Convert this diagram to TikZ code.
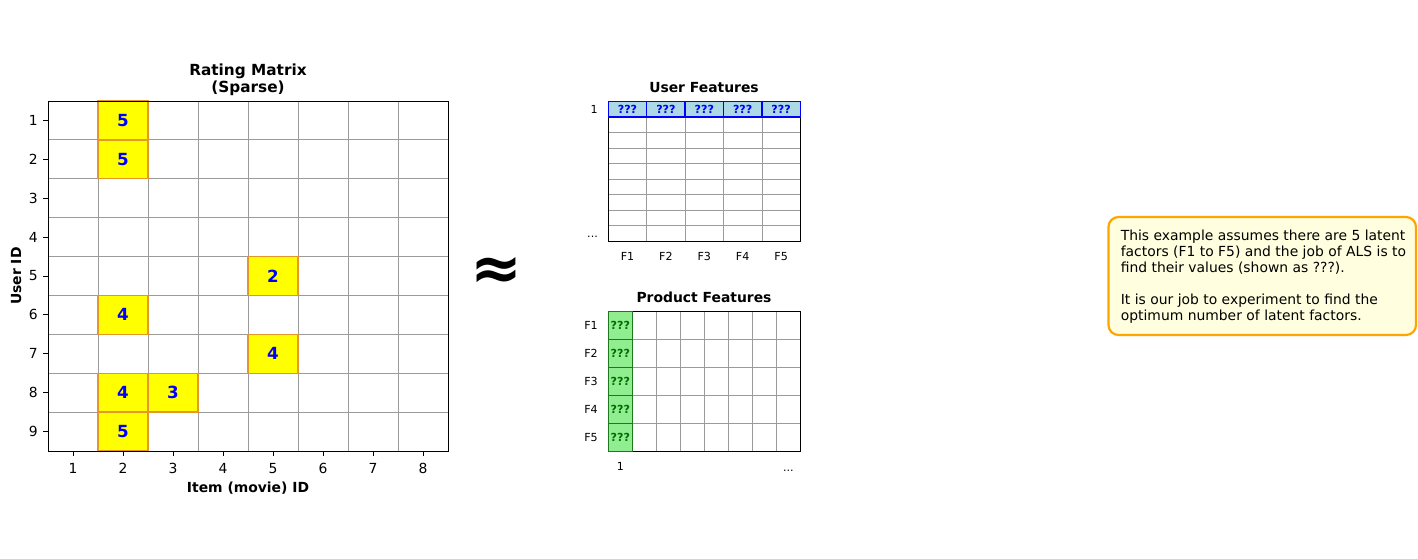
\documentclass[tikz,border=0pt]{standalone}
\usepackage{fontspec}
\setmainfont{DejaVu Sans}
\usepackage{tikz}

\definecolor{cellYellow}{RGB}{255,255,0}
\definecolor{cellEdge}{RGB}{228,150,40}
\definecolor{gridGray}{RGB}{155,155,155}
\definecolor{userBlue}{RGB}{173,216,230}
\definecolor{prodGreen}{RGB}{144,238,144}
\definecolor{prodEdge}{RGB}{30,120,30}
\definecolor{prodText}{RGB}{0,110,0}
\definecolor{noteFill}{RGB}{255,255,224}
\definecolor{noteEdge}{RGB}{255,165,0}

\begin{document}
\begin{tikzpicture}[x=1pt, y=-1pt,
        gridLine/.style={draw=gridGray, line width=0.8pt},
        frameLine/.style={draw=black, line width=0.9pt},
        ratedCell/.style={fill=cellYellow, draw=cellEdge, line width=1.3pt},
        ratingText/.style={text=blue, inner sep=0pt, font=\fontsize{16.7}{20}\selectfont\bfseries},
        tickLabel/.style={inner sep=0pt, font=\fontsize{13.9}{16}\selectfont},
        featTick/.style={inner sep=0pt, font=\fontsize{11.1}{13}\selectfont},
        titleText/.style={inner sep=0pt, font=\fontsize{13.9}{16}\selectfont\bfseries},
        bigTitle/.style={inner sep=0pt, font=\fontsize{15.3}{18}\selectfont\bfseries},
        userCell/.style={fill=userBlue, draw=blue, line width=1.4pt},
        userText/.style={text=blue, inner sep=0pt, font=\fontsize{11.1}{13}\selectfont\bfseries},
        prodCell/.style={fill=prodGreen, draw=prodEdge, line width=1.4pt},
        prodMark/.style={text=prodText, inner sep=0pt, font=\fontsize{11.1}{13}\selectfont\bfseries},
        noteBox/.style={fill=noteFill, draw=noteEdge, line width=2.2pt, rounded corners=10pt},
        noteText/.style={inner sep=0pt, align=left, font=\fontsize{13.9}{16}\selectfont}]
        \pgfmathsetmacro{\rmLeft}{48}
        \pgfmathsetmacro{\rmTop}{101}
        \pgfmathsetmacro{\rmW}{50}
        \pgfmathsetmacro{\rmH}{350/9}
        \pgfmathsetmacro{\ufLeft}{608.3}
        \pgfmathsetmacro{\ufTop}{101.3}
        \pgfmathsetmacro{\ufW}{192/5}
        \pgfmathsetmacro{\ufH}{140/9}
        \pgfmathsetmacro{\pfLeft}{608.3}
        \pgfmathsetmacro{\pfTop}{311.3}
        \pgfmathsetmacro{\pfW}{24}
        \pgfmathsetmacro{\pfH}{28}

        \useasboundingbox (0,0) rectangle (1418,559);
        \fill[white] (0,0) rectangle (1418,559);

        % rating matrix
        \foreach \i in {1,...,7}
            \draw[gridLine] (\rmLeft+\i*\rmW, \rmTop) -- (\rmLeft+\i*\rmW, \rmTop+9*\rmH);
        \foreach \j in {1,...,8}
            \draw[gridLine] (\rmLeft, \rmTop+\j*\rmH) -- (\rmLeft+8*\rmW, \rmTop+\j*\rmH);
        \foreach \col/\row/\val in {2/1/5, 2/2/5, 5/5/2, 2/6/4, 5/7/4, 2/8/4, 3/8/3, 2/9/5} {
            \draw[ratedCell] (\rmLeft+\col*\rmW-\rmW, \rmTop+\row*\rmH-\rmH) rectangle ++(\rmW, \rmH);
            \node[ratingText] (rate\row-\col) at (\rmLeft+\col*\rmW-\rmW/2, \rmTop+\row*\rmH-\rmH/2) {\val};
        }
        \draw[frameLine] (\rmLeft, \rmTop) rectangle (\rmLeft+8*\rmW, \rmTop+9*\rmH);
        \foreach \row in {1,...,9}
            \draw[frameLine] (\rmLeft, \rmTop+\row*\rmH-\rmH/2) -- ++(-4.9, 0)
                node[tickLabel, anchor=east, xshift=-4.9pt] (userTick\row) {\row};
        \foreach \col in {1,...,8}
            \draw[frameLine] (\rmLeft+\col*\rmW-\rmW/2, \rmTop+9*\rmH) -- ++(0, 4.9)
                node[tickLabel, anchor=north, yshift=-7pt] (itemTick\col) {\col};
        \node[bigTitle, anchor=base] (ratingTitle) at (248, 75.3) {Rating Matrix};
        \node[bigTitle, anchor=base] (ratingSub) at (248, 92.5) {(Sparse)};
        \node[titleText, anchor=base] (itemAxis) at (248, 492) {Item (movie) ID};
        \node[titleText, anchor=base, rotate=90] (userAxis) at (21, 276) {User ID};

        \node[inner sep=0pt, font=\fontsize{62}{66}\selectfont\bfseries] (approx) at (496, 273.7) {≈};

        % user features
        \foreach \j in {2,...,8}
            \draw[gridLine] (\ufLeft, \ufTop+\j*\ufH) -- (\ufLeft+5*\ufW, \ufTop+\j*\ufH);
        \foreach \i in {1,...,4}
            \draw[gridLine] (\ufLeft+\i*\ufW, \ufTop+\ufH) -- (\ufLeft+\i*\ufW, \ufTop+9*\ufH);
        \draw[frameLine] (\ufLeft, \ufTop) rectangle (\ufLeft+5*\ufW, \ufTop+9*\ufH);
        \foreach \col in {1,...,5} {
            \draw[userCell] (\ufLeft+\col*\ufW-\ufW, \ufTop) rectangle ++(\ufW, \ufH);
            \node[userText] (userVal\col) at (\ufLeft+\col*\ufW-\ufW/2, \ufTop+\ufH/2) {???};
            \node[featTick, anchor=north] (userFeat\col) at (\ufLeft+\col*\ufW-\ufW/2, 252.5) {F\col};
        }
        \node[featTick, anchor=east] (userFirst) at (598, \ufTop+\ufH/2) {1};
        \node[featTick, anchor=base east] (userMore) at (598, 237.5) {...};
        \node[titleText, anchor=base] (userTitle) at (704, 92.7) {User Features};

        % product features
        \foreach \i in {1,...,7}
            \draw[gridLine] (\pfLeft+\i*\pfW, \pfTop) -- (\pfLeft+\i*\pfW, \pfTop+5*\pfH);
        \foreach \j in {1,...,4}
            \draw[gridLine] (\pfLeft, \pfTop+\j*\pfH) -- (\pfLeft+8*\pfW, \pfTop+\j*\pfH);
        \draw[frameLine] (\pfLeft, \pfTop) rectangle (\pfLeft+8*\pfW, \pfTop+5*\pfH);
        \foreach \row in {1,...,5} {
            \draw[prodCell] (\pfLeft, \pfTop+\row*\pfH-\pfH) rectangle ++(\pfW, \pfH);
            \node[prodMark] (prodVal\row) at (\pfLeft+\pfW/2, \pfTop+\row*\pfH-\pfH/2) {???};
            \node[featTick, anchor=east] (prodFeat\row) at (598, \pfTop+\row*\pfH-\pfH/2) {F\row};
        }
        \node[featTick, anchor=north] (prodFirst) at (\pfLeft+\pfW/2, 462) {1};
        \node[featTick, anchor=base] (prodMore) at (\pfLeft+7.5*\pfW, 471.7) {...};
        \node[titleText, anchor=base] (prodTitle) at (704, 302.7) {Product Features};

        % note
        \draw[noteBox] (1108.5, 217) rectangle (1416, 335);
        \node[noteText, anchor=north west] (note) at (1120.6, 229.4)
            {This example assumes there are 5 latent\\
             factors (F1 to F5) and the job of ALS is to\\
             find their values (shown as ???).\\[16pt]
             It is our job to experiment to find the\\
             optimum number of latent factors.};
    \end{tikzpicture}
\end{document}
